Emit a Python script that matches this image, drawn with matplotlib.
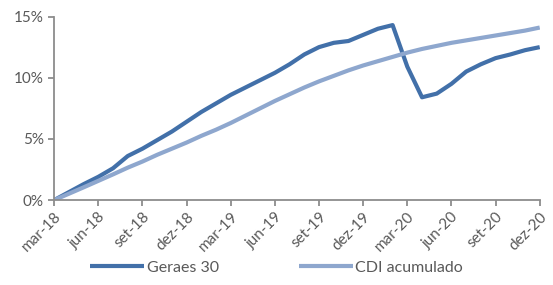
import matplotlib.pyplot as plt
from matplotlib.ticker import FuncFormatter

# monthly points, mar-18 .. dez-20 (values in %)
months = ["mar-18", "abr-18", "mai-18", "jun-18", "jul-18", "ago-18", "set-18", "out-18", "nov-18",
          "dez-18", "jan-19", "fev-19", "mar-19", "abr-19", "mai-19", "jun-19", "jul-19", "ago-19",
          "set-19", "out-19", "nov-19", "dez-19", "jan-20", "fev-20", "mar-20", "abr-20", "mai-20",
          "jun-20", "jul-20", "ago-20", "set-20", "out-20", "nov-20", "dez-20"]
geraes = [0, 0.65, 1.3, 1.9, 2.6, 3.6, 4.2, 4.9, 5.6, 6.4, 7.2, 7.9, 8.6, 9.2, 9.8, 10.4, 11.1,
          11.9, 12.5, 12.85, 13.0, 13.5, 14.0, 14.3, 10.9, 8.4, 8.7, 9.5, 10.5, 11.1, 11.6, 11.9,
          12.25, 12.5]
cdi = [0, 0.52, 1.04, 1.57, 2.1, 2.65, 3.15, 3.7, 4.2, 4.7, 5.25, 5.75, 6.3, 6.9, 7.5, 8.1,
       8.65, 9.2, 9.7, 10.15, 10.6, 11.0, 11.35, 11.7, 12.05, 12.35, 12.6, 12.85, 13.05, 13.25,
       13.45, 13.65, 13.85, 14.1]
y_ticks = [0, 5, 10, 15]

plt.rcParams['font.family'] = ['Lato', 'DejaVu Sans']
text_color = '#595959'
axis_color = '#8c8c8c'

fig = plt.figure(figsize=(5.53, 2.85), dpi=100)
ax = fig.add_axes([0.098, 0.298, 0.878, 0.644])

x = list(range(len(months)))
ax.plot(x, geraes, color='#4270a9', lw=3.0, label='Geraes 30', solid_capstyle='butt')
ax.plot(x, cdi, color='#8ea7ce', lw=3.0, label='CDI acumulado', solid_capstyle='butt')

ax.set_xlim(0, len(months) - 1)
ax.set_ylim(0, 15)
ax.set_yticks(y_ticks)
ax.yaxis.set_major_formatter(FuncFormatter(lambda v, p: f"{v:.0f}%"))
ax.set_xticks(x[::3])
ax.set_xticklabels(months[::3], rotation=45, ha='right', rotation_mode='anchor')

for s in ['top', 'right']:
    ax.spines[s].set_visible(False)
for s in ['left', 'bottom']:
    ax.spines[s].set_color(axis_color)
    ax.spines[s].set_linewidth(1.3)
ax.tick_params(colors=axis_color, width=1.3, length=4, labelcolor=text_color, labelsize=11)
ax.tick_params(axis='x', pad=3)

fig.legend(loc='lower center', bbox_to_anchor=(0.5, -0.015), ncol=2, frameon=False,
           fontsize=11.5, handlelength=3.4, columnspacing=5.0, handletextpad=0.15,
           labelcolor=text_color)

fig.savefig('out.png', dpi=100)
